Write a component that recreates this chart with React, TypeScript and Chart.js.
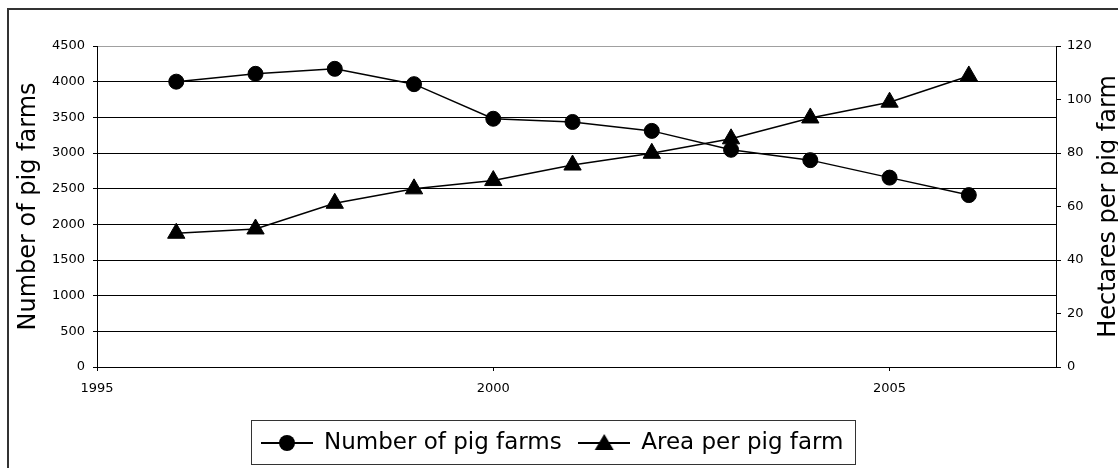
import React, { useEffect, useRef } from 'react';
import { Chart, registerables } from 'chart.js';

Chart.register(...registerables);

// ---- data ----
const years = [1996, 1997, 1998, 1999, 2000, 2001, 2002, 2003, 2004, 2005, 2006];
const pigFarms = [4000, 4110, 4180, 3965, 3480, 3435, 3310, 3045, 2900, 2655, 2410];
const areaPerFarm = [50, 51.6, 61.2, 66.6, 69.7, 75.5, 79.9, 85.3, 93.1, 99, 108.8];
const seriesNames = ['Number of pig farms', 'Area per pig farm'];
const xTickYears = [1995, 2000, 2005];
const leftTitle = 'Number of pig farms';
const rightTitle = 'Hectares per pig farm';

const FONT = 'DejaVu Sans';

function makeLegendImage(kind: 'circle' | 'triangle'): HTMLCanvasElement {
  const c = document.createElement('canvas');
  c.width = 52;
  c.height = 24;
  const g = c.getContext('2d')!;
  g.strokeStyle = '#000';
  g.lineWidth = 2;
  g.beginPath();
  g.moveTo(0, 12);
  g.lineTo(52, 12);
  g.stroke();
  g.fillStyle = '#000';
  g.beginPath();
  if (kind === 'circle') {
    g.arc(26, 12, 8, 0, Math.PI * 2);
  } else {
    g.moveTo(26, 3);
    g.lineTo(35.5, 19);
    g.lineTo(16.5, 19);
    g.closePath();
  }
  g.fill();
  return c;
}

const framePlugin = {
  id: 'outerFrame',
  beforeDraw(chart: any) {
    const ctx = chart.ctx;
    ctx.save();
    ctx.strokeStyle = '#333';
    ctx.lineWidth = 2;
    ctx.strokeRect(8, 9, 1200, 600);
    ctx.restore();
  },
};

const legendBorderPlugin = {
  id: 'legendBorder',
  afterDraw(chart: any) {
    const lg = chart.legend;
    const hb = lg && lg.legendHitBoxes;
    if (!hb || !hb.length) return;
    const left = Math.min(...hb.map((h: any) => h.left)) - 10;
    const right = Math.max(...hb.map((h: any) => h.left + h.width)) + 12;
    const top = hb[0].top - 12;
    const bottom = hb[0].top + hb[0].height + 9;
    const ctx = chart.ctx;
    ctx.save();
    ctx.strokeStyle = '#333';
    ctx.lineWidth = 1;
    ctx.strokeRect(Math.round(left) + 0.5, Math.round(top) + 0.5, Math.round(right - left), Math.round(bottom - top));
    ctx.restore();
  },
};

const rightTitlePlugin = {
  id: 'rightTitle',
  afterDraw(chart: any) {
    const ctx = chart.ctx;
    const area = chart.chartArea;
    const s = chart.scales.y1;
    ctx.save();
    ctx.translate(s.right + 4, (area.top + area.bottom) / 2);
    ctx.rotate(-Math.PI / 2);
    ctx.font = `24px "${FONT}"`;
    ctx.fillStyle = '#000';
    ctx.textAlign = 'center';
    ctx.textBaseline = 'middle';
    ctx.fillText(rightTitle, 0, 0);
    ctx.restore();
  },
};

export default function App() {
  const canvasRef = useRef<HTMLCanvasElement | null>(null);

  useEffect(() => {
    document.body.style.margin = '0';
    const canvas = canvasRef.current;
    if (!canvas) return;
    const images = [makeLegendImage('circle'), makeLegendImage('triangle')];
    const tickFont = { family: FONT, size: 13 };
    const plain = (v: any) => String(v);

    const chart = new Chart(canvas, {
      type: 'line',
      data: {
        datasets: [
          {
            label: seriesNames[0],
            data: years.map((y, i) => ({ x: y, y: pigFarms[i] })),
            yAxisID: 'y',
            borderColor: '#000',
            backgroundColor: '#000',
            borderWidth: 1.5,
            pointStyle: 'circle',
            pointRadius: 7.5,
            pointBorderWidth: 1,
            pointBackgroundColor: '#000',
            pointBorderColor: '#000',
            tension: 0,
          },
          {
            label: seriesNames[1],
            data: years.map((y, i) => ({ x: y, y: areaPerFarm[i] })),
            yAxisID: 'y1',
            borderColor: '#000',
            backgroundColor: '#000',
            borderWidth: 1.5,
            pointStyle: 'triangle',
            pointRadius: 10,
            pointBorderWidth: 1,
            pointBackgroundColor: '#000',
            pointBorderColor: '#000',
            tension: 0,
          },
        ],
      },
      options: {
        animation: false,
        responsive: false,
        maintainAspectRatio: false,
        layout: { padding: { left: 0, right: 13, top: 46, bottom: 3.5 } },
        plugins: {
          tooltip: { enabled: false },
          title: { display: false },
          legend: {
            display: true,
            position: 'bottom',
            maxHeight: 50,
            labels: {
              usePointStyle: true,
              pointStyleWidth: 51,
              padding: 17,
              color: '#000',
              font: { family: FONT, size: 23 },
              generateLabels: (chart: any) => {
                const items = Chart.defaults.plugins.legend.labels.generateLabels(chart);
                items.forEach((it: any, i: number) => {
                  it.pointStyle = images[i];
                  it.fontColor = '#000';
                });
                return items;
              },
            },
          },
        },
        scales: {
          x: {
            type: 'linear',
            min: 1995,
            max: 2007.1,
            afterBuildTicks: (scale: any) => {
              scale.ticks = xTickYears.map((v) => ({ value: v }));
            },
            afterFit: (scale: any) => {
              scale.height = 47.5;
            },
            ticks: {
              stepSize: 5,
              color: '#000',
              font: tickFont,
              padding: 10,
              maxRotation: 0,
              callback: plain,
            },
            grid: { drawOnChartArea: false, drawTicks: true, tickLength: 4, tickColor: '#000' },
            border: { display: true, color: '#000', width: 1 },
          },
          y: {
            type: 'linear',
            position: 'left',
            min: 0,
            max: 4500,
            afterFit: (scale: any) => {
              scale.width = 97;
            },
            ticks: { stepSize: 500, color: '#000', font: tickFont, padding: 8, callback: plain },
            grid: {
              color: (ctx: any) => (ctx.tick && ctx.tick.value === 4500 ? '#a0a0a0' : '#000'),
              lineWidth: 1,
              tickLength: 4,
              tickColor: '#000',
            },
            border: { display: true, color: '#000', width: 1 },
            title: {
              display: true,
              text: leftTitle,
              color: '#000',
              font: { family: FONT, size: 24 },
              padding: { top: 14, bottom: 0 },
            },
          },
          y1: {
            type: 'linear',
            position: 'right',
            min: 0,
            max: 120,
            afterFit: (scale: any) => {
              scale.width = 49;
            },
            ticks: { stepSize: 20, color: '#000', font: tickFont, padding: 6, callback: plain },
            grid: { drawOnChartArea: false, tickLength: 5, tickColor: '#000' },
            border: { display: true, color: '#000', width: 1 },
          },
        },
      },
      plugins: [framePlugin, legendBorderPlugin, rightTitlePlugin],
    } as any);

    return () => chart.destroy();
  }, []);

  return (
    <div style={{ width: 1118, height: 468 }}>
      <canvas ref={canvasRef} width={1118} height={468} style={{ display: 'block', width: 1118, height: 468 }} />
    </div>
  );
}
